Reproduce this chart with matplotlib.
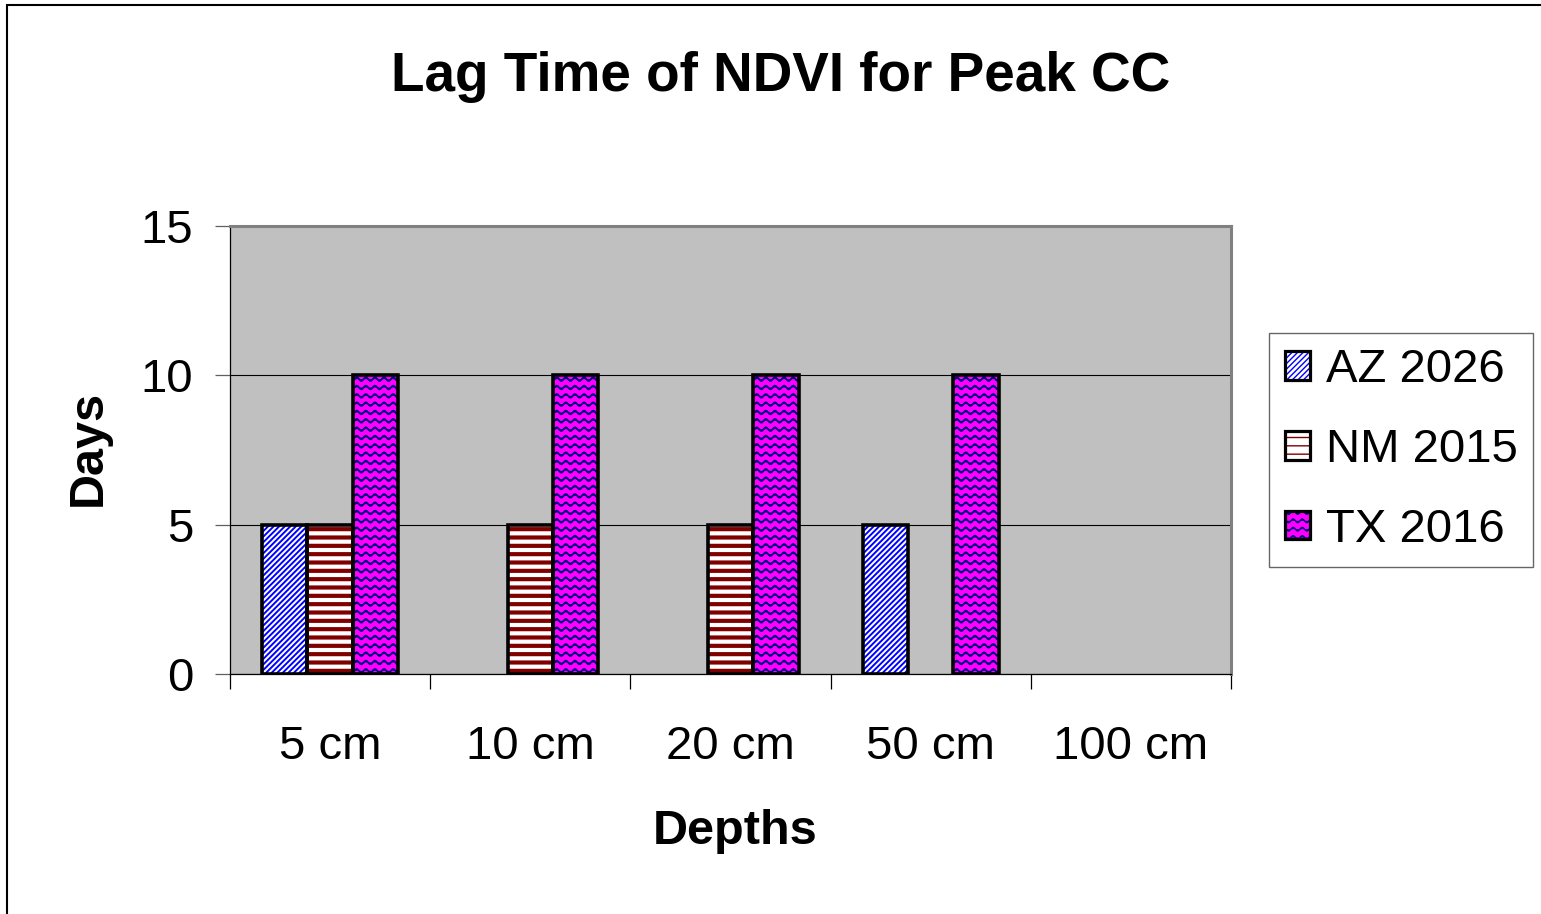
import warnings
import numpy as np
import matplotlib
matplotlib.use("Agg")
import matplotlib.pyplot as plt
from matplotlib import hatch as mhatch
from matplotlib.path import Path
from matplotlib.patches import Rectangle, Patch
from matplotlib.legend_handler import HandlerTuple

warnings.filterwarnings("ignore")

# ---------------- data ----------------
categories = ["5 cm", "10 cm", "20 cm", "50 cm", "100 cm"]
series_names = ["AZ 2026", "NM 2015", "TX 2016"]
az_2026 = [5, np.nan, np.nan, 5, np.nan]
nm_2015 = [5, 5, 5, np.nan, np.nan]
tx_2016 = [10, 10, 10, 10, np.nan]
y_ticks = [0, 5, 10, 15]

title = "Lag Time of NDVI for Peak CC"
x_label = "Depths"
y_label = "Days"


# ------------- custom wavy hatch -------------
class WaveHatch(mhatch.HatchPatternBase):
    def __init__(self, hatch, density):
        self.num_rows = int(hatch.count('w') * density)
        self.num_pts = 121
        self.num_vertices = self.num_rows * self.num_pts

    def set_vertices_and_codes(self, vertices, codes):
        ys, step = np.linspace(0.0, 1.0, self.num_rows, False, retstep=True)
        ys = ys + step / 2.0
        xs = np.linspace(0.0, 1.0, self.num_pts)
        for i, y in enumerate(ys):
            sl = slice(i * self.num_pts, (i + 1) * self.num_pts)
            vertices[sl, 0] = xs
            vertices[sl, 1] = y + 0.018 * np.sin(2 * np.pi * 11 * xs)
            codes[sl] = Path.LINETO
            codes[i * self.num_pts] = Path.MOVETO


mhatch._hatch_types.append(WaveHatch)

plt.rcParams['font.family'] = ['Liberation Sans', 'DejaVu Sans']

styles = [
    dict(face="white", hcolor="#0000FF", hatch="//////", hlw=1.4),
    dict(face="white", hcolor="#800000", hatch="--", hlw=3.0),
    dict(face="#FF00FF", hcolor="#000080", hatch="ww", hlw=1.3),
]
series = [az_2026, nm_2015, tx_2016]

fig = plt.figure(figsize=(15.41, 9.14), dpi=100)
ax = fig.add_axes([230 / 1541, 1 - 674 / 914, (1231 - 230) / 1541, (674 - 226) / 914])
ax.set_facecolor("#C0C0C0")

x = np.arange(len(categories))
bw = 0.227
handles = []
for k, (vals, st) in enumerate(zip(series, styles)):
    pos = x + (k - 1) * bw
    with plt.rc_context({'hatch.linewidth': st["hlw"]}):
        bars = ax.bar(pos, vals, width=bw, color=st["face"], edgecolor=st["hcolor"],
                      linewidth=0, hatch=st["hatch"], zorder=3)
        for b in bars:
            if hasattr(b, "set_hatch_linewidth"):
                b.set_hatch_linewidth(st["hlw"])
        ax.bar(pos, vals, width=bw, fill=False, edgecolor="black", linewidth=2.6, zorder=4)
        h1 = Patch(facecolor=st["face"], edgecolor=st["hcolor"], linewidth=0, hatch=st["hatch"])
        if hasattr(h1, "set_hatch_linewidth"):
            h1.set_hatch_linewidth(st["hlw"])
    h2 = Patch(fill=False, edgecolor="black", linewidth=2.3)
    handles.append((h1, h2))

ax.set_xlim(-0.5, len(categories) - 0.5)
ax.set_ylim(0, 15)
ax.set_yticks(y_ticks)
ax.set_yticklabels([str(v) for v in y_ticks], fontsize=34)
ax.yaxis.grid(True, color="black", linewidth=0.8, zorder=1)
ax.set_axisbelow(True)

ax.set_xticks(np.arange(-0.5, len(categories)), [""] * (len(categories) + 1))
ax.set_xticks(x, categories, minor=True)
ax.tick_params(axis="x", which="major", direction="out", length=10.5, width=0.9, color="black")
ax.tick_params(axis="x", which="minor", length=0, labelsize=34, pad=37)
ax.tick_params(axis="y", direction="out", length=10.5, width=0.9, color="#606060", pad=16)

for side in ["top", "right"]:
    ax.spines[side].set_color("#808080")
    ax.spines[side].set_linewidth(2.2)
for side in ["left", "bottom"]:
    ax.spines[side].set_color("black")
    ax.spines[side].set_linewidth(0.9)

fig.text(781 / 1541, 1 - 77 / 914, title, fontsize=39.5, fontweight="bold",
         ha="center", va="center")
fig.text(735 / 1541, 1 - 832 / 914, x_label, fontsize=35, fontweight="bold",
         ha="center", va="center")
fig.text(88 / 1541, 1 - 448 / 914, y_label, fontsize=35, fontweight="bold",
         ha="center", va="center", rotation=90)

leg = fig.legend(handles, series_names, handler_map={tuple: HandlerTuple(ndivide=1, pad=0)},
                 loc="center", bbox_to_anchor=(1401 / 1541, 1 - 450 / 914),
                 fontsize=34, frameon=True, fancybox=False, edgecolor="#404040",
                 handlelength=0.55, handleheight=0.55, handletextpad=0.32,
                 labelspacing=0.76, borderpad=0.32, borderaxespad=0)
leg.get_frame().set_linewidth(1.0)

# outer chart border (cut off at right and bottom)
fig.patches.append(Rectangle((7 / 1541, -0.05), 1.1, 1 - 5 / 914 + 0.05,
                             transform=fig.transFigure, fill=False,
                             edgecolor="black", linewidth=1.5))

fig.savefig("out.png", dpi=100)
